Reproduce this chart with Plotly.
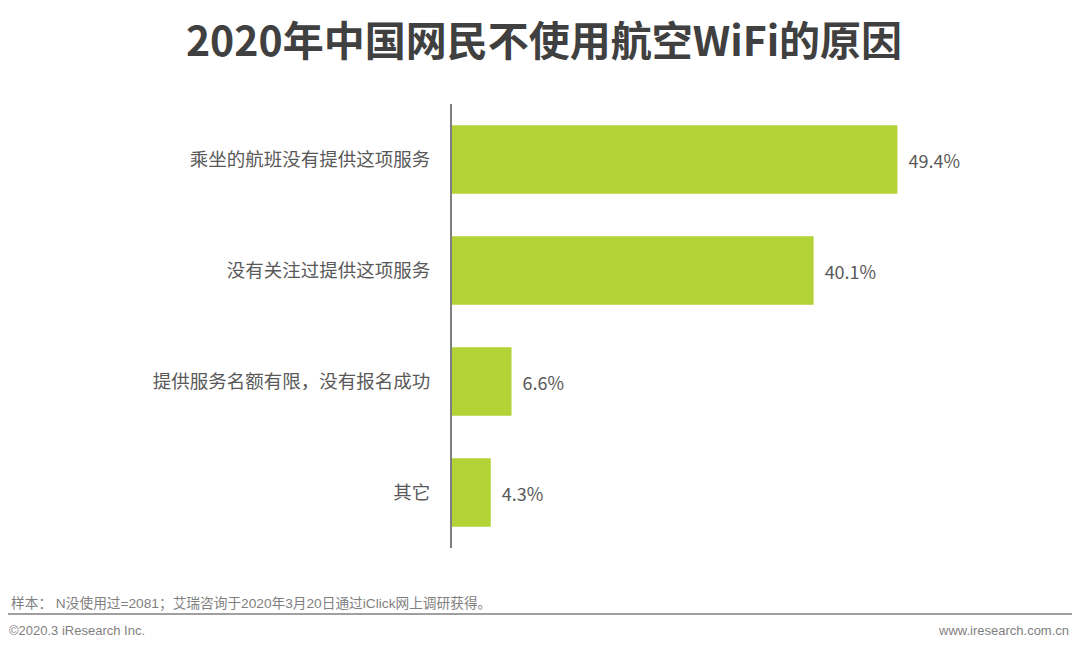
import plotly.graph_objects as go

categories = ["乘坐的航班没有提供这项服务", "没有关注过提供这项服务", "提供服务名额有限，没有报名成功", "其它"]
values = [49.4, 40.1, 6.6, 4.3]
value_labels = ["49.4%", "40.1%", "6.6%", "4.3%"]

title_text = "2020年中国网民不使用航空WiFi的原因"
note_text = "样本： N没使用过=2081；艾瑞咨询于2020年3月20日通过iClick网上调研获得。"
copyright_text = "©2020.3 iResearch Inc."
site_text = "www.iresearch.com.cn"

CJK = "Noto Sans CJK SC, Noto Sans, sans-serif"

# page body has an 8px margin; work in reference pixel coords shifted by 8
OFF = 8
W, H = 1080 - OFF, 650 - OFF
L, T, B = 452 - OFF, 104 - OFF, 548 - OFF
PW = 541
PH = B - T


def px(x):
    return (x - OFF - L) / PW


def py(y):
    return (B - (y - OFF)) / PH


fig = go.Figure(
    go.Bar(
        x=values,
        y=categories,
        orientation="h",
        marker=dict(color="#B2D235", line=dict(width=0)),
        text=["  " + t for t in value_labels],
        textposition="outside",
        textfont=dict(family=CJK, size=18, color="#595959"),
        cliponaxis=False,
        hoverinfo="skip",
    )
)

fig.update_layout(
    width=W,
    height=H,
    paper_bgcolor="white",
    plot_bgcolor="white",
    margin=dict(l=L, r=W - L - PW, t=T, b=H - B),
    bargap=0.385,
    showlegend=False,
    title=dict(
        text="<b>" + title_text + "</b>",
        x=0.5,
        xanchor="center",
        y=1 - (42 - OFF) / H,
        yanchor="middle",
        font=dict(family=CJK, size=41, color="#404040"),
    ),
    xaxis=dict(
        range=[0, 60],
        visible=False,
        showgrid=False,
        zeroline=False,
    ),
    yaxis=dict(
        autorange="reversed",
        showgrid=False,
        zeroline=False,
        showline=True,
        linecolor="#7F7F7F",
        linewidth=2,
        ticks="",
        ticklabelstandoff=16,
        tickfont=dict(family=CJK, size=18.5, color="#595959"),
    ),
)

fig.add_shape(
    type="line", xref="paper", yref="paper",
    x0=px(0), x1=px(1076),
    y0=py(614), y1=py(614),
    line=dict(color="#808080", width=1.5),
)

fig.add_annotation(
    text=note_text, xref="paper", yref="paper",
    x=px(9), y=py(603),
    xanchor="left", yanchor="middle", showarrow=False,
    font=dict(family="Liberation Sans, Noto Sans CJK SC, sans-serif", size=13.7, color="#7F7F7F"),
)
fig.add_annotation(
    text=copyright_text, xref="paper", yref="paper",
    x=px(7), y=py(630),
    xanchor="left", yanchor="middle", showarrow=False,
    font=dict(family="Liberation Sans, sans-serif", size=13, color="#7F7F7F"),
)
fig.add_annotation(
    text=site_text, xref="paper", yref="paper",
    x=px(1071), y=py(630),
    xanchor="right", yanchor="middle", showarrow=False,
    font=dict(family="Liberation Sans, sans-serif", size=13, color="#7F7F7F"),
)

fig.write_html("out.html")
